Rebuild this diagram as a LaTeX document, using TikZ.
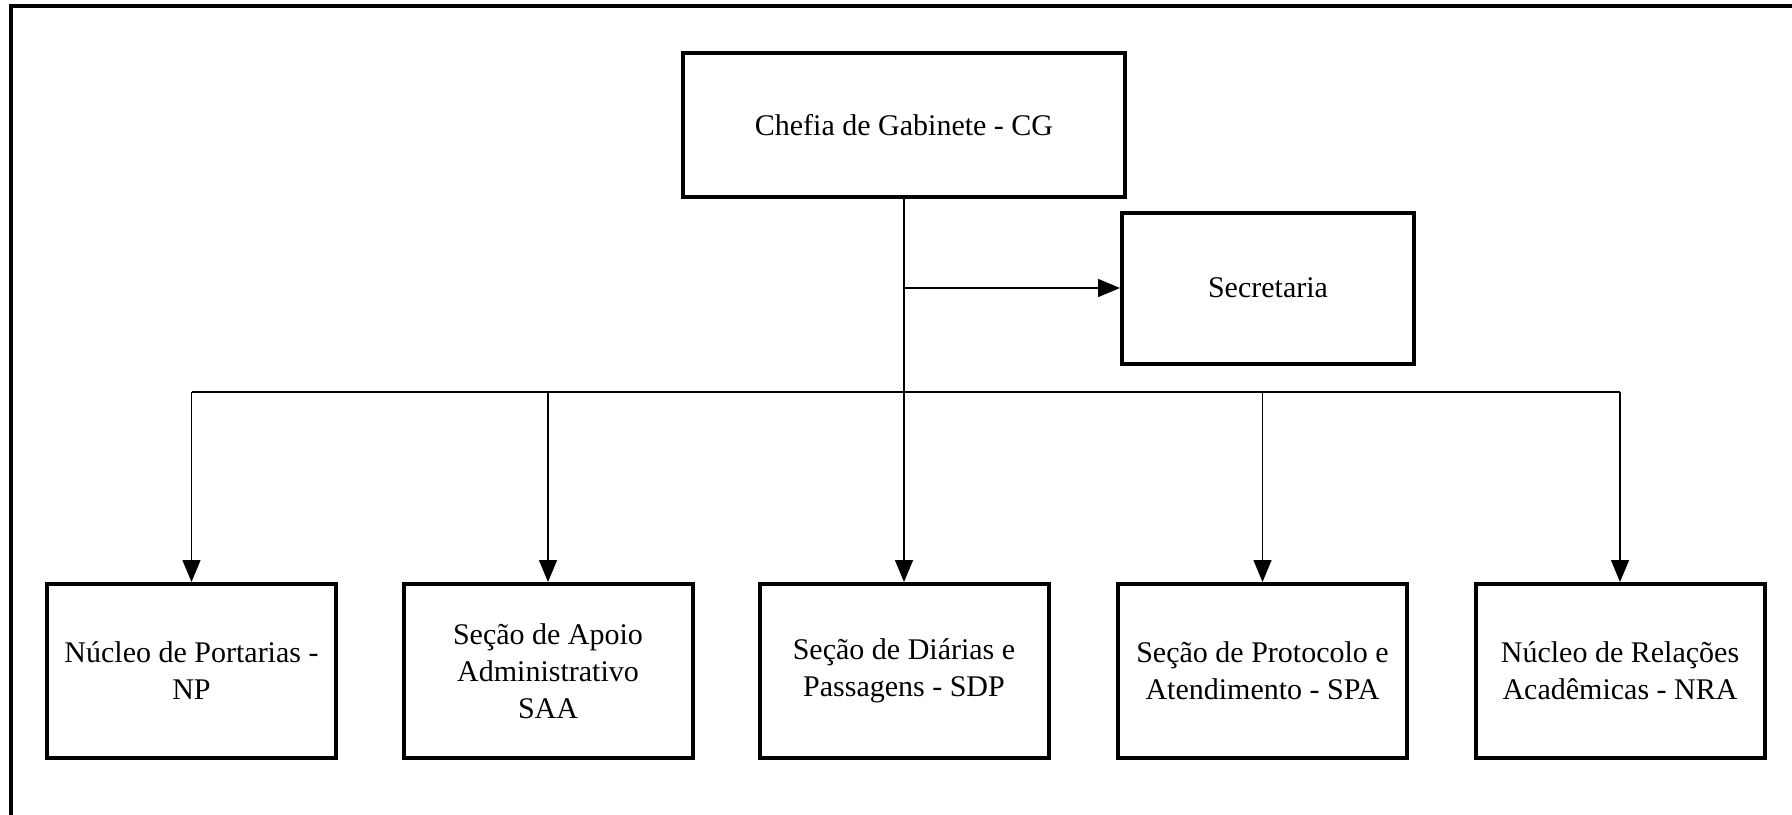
\documentclass[tikz,border=0pt]{standalone}
\usepackage{fontspec}
\setmainfont{Liberation Serif}
\usetikzlibrary{arrows.meta, positioning}
\tikzset{
    unitbox/.style={draw, line width=2pt, inner sep=0pt, align=center,
        font=\fontsize{15}{18.5}\selectfont},
    topbox/.style={unitbox, minimum width=221pt, minimum height=72pt},
    secbox/.style={unitbox, minimum width=146pt, minimum height=75.5pt},
    subbox/.style={unitbox, minimum width=144.5pt, minimum height=87pt},
    link/.style={line width=0.75pt},
    linkarrow/.style={link, -{Triangle[length=11pt, width=9pt]}},
}

\begin{document}
\begin{tikzpicture}[x=0.5pt, y=-0.5pt]
    \useasboundingbox (0, 0) rectangle (1792, 814);
    % frame (only top and left edges are visible)
    \draw[line width=2pt] (11, 840) -- (11, 6) -- (1820, 6);

    \node[topbox] (chefia) at (904, 125) {Chefia de Gabinete - CG};
    \node[secbox] (secretaria) at (1268, 288) {Secretaria};

    \node[subbox] (np) at (191.5, 671) {Núcleo de Portarias -\\NP};
    \node[subbox] (saa) at (548, 671) {Seção de Apoio\\Administrativo\\SAA};
    \node[subbox] (sdp) at (904, 671) {Seção de Diárias e\\Passagens - SDP};
    \node[subbox] (spa) at (1262.5, 671) {Seção de Protocolo e\\Atendimento - SPA};
    \node[subbox] (nra) at (1620, 671) {Núcleo de Relações\\Acadêmicas - NRA};

    \coordinate (bus) at (904, 392);

    \draw[linkarrow] (chefia.south) -- (sdp.north);
    \draw[linkarrow] (chefia.south |- secretaria.west) -- (secretaria.west);
    \draw[link] (np.north |- bus) -- (nra.north |- bus);
    \foreach \unit in {np, saa, spa, nra}
        \draw[linkarrow] (\unit.north |- bus) -- (\unit.north);
\end{tikzpicture}
\end{document}
